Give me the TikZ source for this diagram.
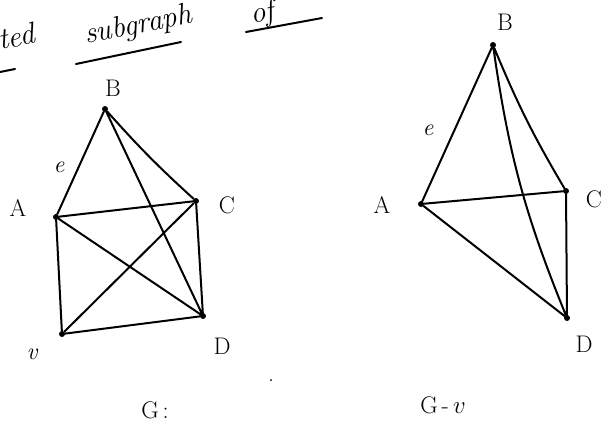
\documentclass[tikz,border=0pt]{standalone}
\usepackage{fontspec}
\tikzset{
  vtx/.style={circle,fill=black,inner sep=0pt,minimum size=6pt},
  lbl/.style={font=\fontsize{24}{24}\selectfont,inner sep=0pt},
  edge/.style={line width=2pt,line cap=round,line join=round},
  toptext/.style={font=\fontsize{30}{30}\selectfont\itshape,inner sep=0pt,rotate=11,anchor=base west},
  uline/.style={line width=2pt,line cap=round}
}
\begin{document}
\begin{tikzpicture}[x=1pt,y=-1pt]
\useasboundingbox (0,0) rectangle (612,444);
\clip (0,0) rectangle (612,444);
% top partial text
\node[toptext] (t1) at (0,50) {ted};
\node[toptext] (t2) at (86,44) {subgraph};
\node[toptext] (t3) at (252,24) {of};
\coordinate (u1a) at (0,72); \coordinate (u1b) at (15,69);
\coordinate (u2a) at (76,64); \coordinate (u2b) at (181,42);
\coordinate (u3a) at (246,32); \coordinate (u3b) at (322,18);
\draw[uline] (u1a) -- (u1b);
\draw[uline] (u2a) -- (u2b);
\draw[uline] (u3a) -- (u3b);
% graph G
\node[vtx] (B) at (105,109) {};
\node[vtx] (A) at (56,217) {};
\node[vtx] (C) at (196,201) {};
\node[vtx] (D) at (203,316) {};
\node[vtx] (v) at (62,334) {};
\draw[edge] (A) -- (B) (B) to[bend right=3] (C) (B) -- (D) (A) -- (C) (A) -- (v)
  (A) -- (D) (C) -- (v) (C) -- (D) (v) -- (D);
\node[lbl] (lB) at (113,88) {B};
\node[lbl] (le) at (59,167) {\itshape e};
\node[lbl] (lA) at (18,208) {A};
\node[lbl] (lC) at (227,205) {C};
\node[lbl] (lv) at (32,354) {\itshape v};
\node[lbl] (lD) at (222,346) {D};
% graph G - v
\node[vtx] (B2) at (493,45) {};
\node[vtx] (A2) at (421,204) {};
\node[vtx] (C2) at (566,191) {};
\node[vtx] (D2) at (567,318) {};
\draw[edge] (A2) -- (B2) (B2) to[bend right=4] (C2) (B2) to[bend right=7] (D2)
  (A2) -- (C2) (A2) -- (D2) (C2) -- (D2);
\node[lbl] (lB2) at (505,22) {B};
\node[lbl] (le2) at (428,130) {\itshape e};
\node[lbl] (lA2) at (382,205) {A};
\node[lbl] (lC2) at (594,199) {C};
\node[lbl] (lD2) at (584,344) {D};
% captions
\node[lbl] (cap1) at (155,410) {G\,:};
\node[lbl] (cap2) at (443,405) {G\,-\,$v$};
\fill (271,380) circle (1pt);
\end{tikzpicture}
\end{document}
